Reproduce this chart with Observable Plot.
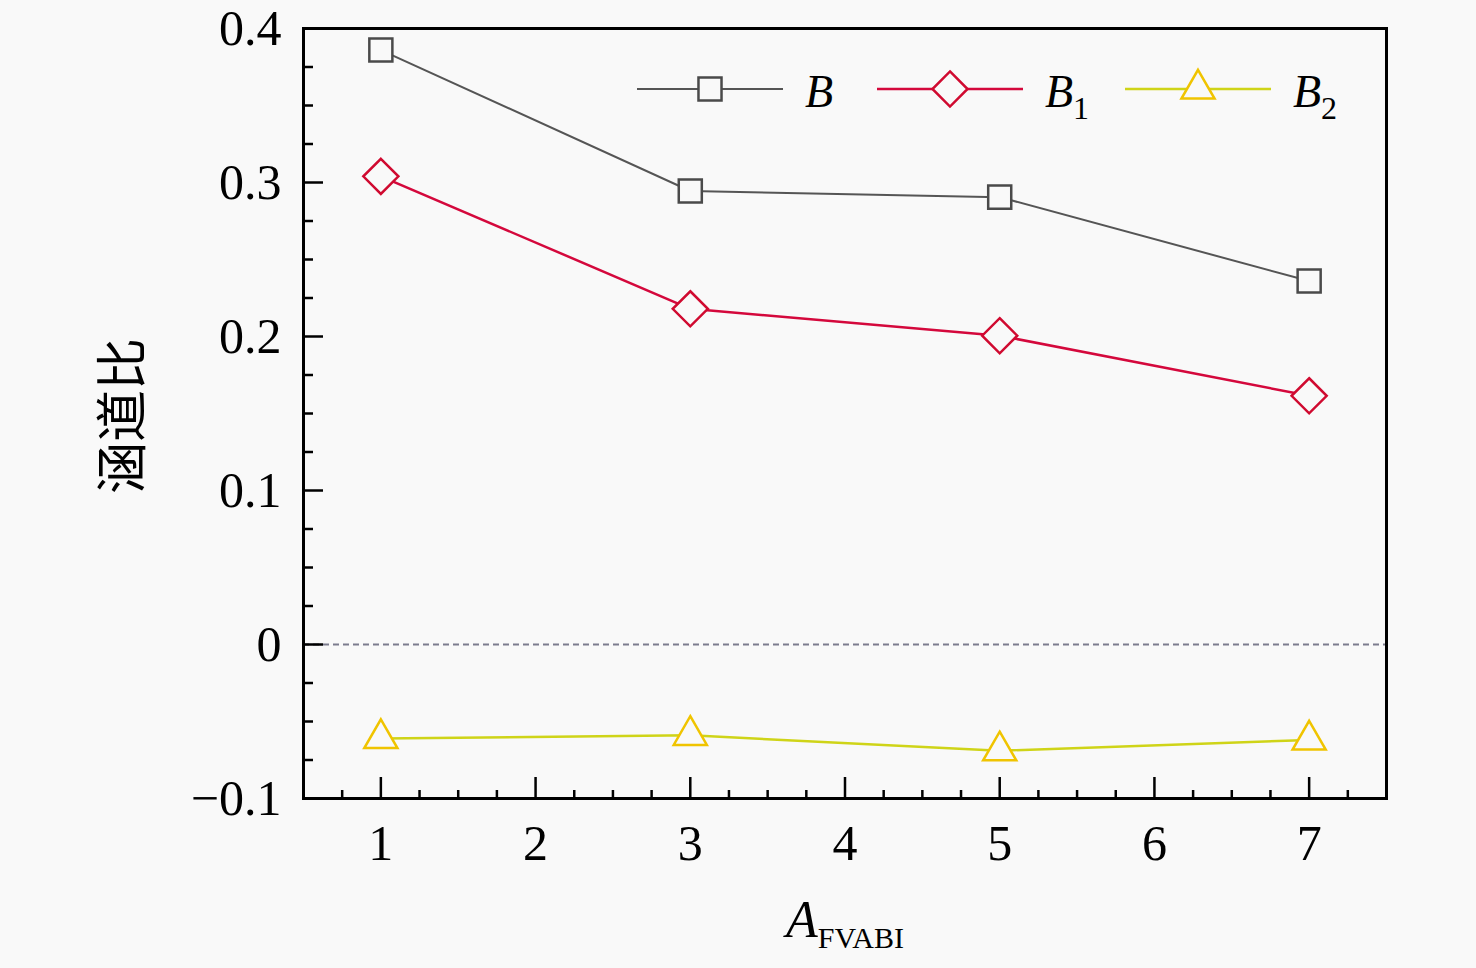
<!DOCTYPE html>
<html><head><meta charset="utf-8">
<script src="https://cdn.jsdelivr.net/npm/d3@7"></script>
<script src="https://cdn.jsdelivr.net/npm/@observablehq/plot@0.6"></script>
<style>html,body{margin:0;padding:0;background:#f9f9f9;} #chart{width:1476px;height:968px;}</style>
</head><body><div id="chart"></div>
<script>
// ---- data ----
const xValues  = [1, 3, 5, 7];
const seriesB  = [0.386, 0.2945, 0.2905, 0.236];
const seriesB1 = [0.304, 0.218, 0.2005, 0.1615];
const seriesB2 = [-0.061, -0.059, -0.069, -0.062];
const seriesKeys = ["B", "B1", "B2"];
const seriesSubs = ["", "1", "2"];
const xTicks = [1, 2, 3, 4, 5, 6, 7];
const xTickLabels = ["1", "2", "3", "4", "5", "6", "7"];
const yTicks = [-0.1, 0, 0.1, 0.2, 0.3, 0.4];
const yTickLabels = ["\u22120.1", "0", "0.1", "0.2", "0.3", "0.4"];
const yLabel = "涵道比";
const xLabelMain = "A";
const xLabelSub = "FVABI";

const xMinor = d3.range(3, 30).map(i => i / 4).filter(v => v % 1 !== 0);
const yMinor = d3.range(-4, 17).filter(i => i % 4 !== 0).map(i => i * 0.025);

const valuesByKey = {B: seriesB, B1: seriesB1, B2: seriesB2};
const rows = seriesKeys.flatMap(k => xValues.map((x, i) => ({series: k, x, y: valuesByKey[k][i]})));

const bg = "#f9f9f9";
const serif = "'Liberation Serif', 'Times New Roman', serif";
const styleOf = {
  B:  {line: "#555555", lw: 2,   symbol: "square",   mstroke: "#4a4a4a", r: 13},
  B1: {line: "#d4083c", lw: 2.5, symbol: "diamond2", mstroke: "#d00a30", r: 15.8},
  B2: {line: "#cfd418", lw: 2.5, symbol: "triangle", mstroke: "#f0c400", r: 12.3}
};

const W = 1476, H = 968, mL = 303, mR = 90, mT = 28, mB = 170;

const seriesMarks = seriesKeys.flatMap(k => {
  const s = styleOf[k];
  const d = rows.filter(r => r.series === k);
  return [
    Plot.line(d, {x: "x", y: "y", stroke: s.line, strokeWidth: s.lw}),
    Plot.dot(d, {x: "x", y: "y", symbol: s.symbol, r: s.r, stroke: s.mstroke, fill: bg, strokeWidth: 2.5})
  ];
});

const chart = Plot.plot({
  width: W, height: H,
  marginLeft: mL, marginRight: mR, marginTop: mT, marginBottom: mB,
  style: {background: bg, fontFamily: serif, color: "#000"},
  x: {domain: [0.5, 7.5]},
  y: {domain: [-0.1, 0.4]},
  marks: [
    Plot.ruleY([0], {stroke: "#7c7c8e", strokeWidth: 2, strokeDasharray: "6,4"}),
    ...seriesMarks,
    // inward ticks
    Plot.axisY({ticks: yTicks, tickSize: 20, dx: 20, fill: "none", strokeWidth: 2.5, label: null}),
    Plot.axisY({ticks: yMinor, tickSize: 10, dx: 10, fill: "none", strokeWidth: 2.5, label: null}),
    Plot.axisX({ticks: xTicks, tickSize: 21, dy: -21, fill: "none", strokeWidth: 2.5, label: null}),
    Plot.axisX({ticks: xMinor, tickSize: 8, dy: -8, fill: "none", strokeWidth: 2.5, label: null}),
    // tick labels
    Plot.axisY({ticks: yTicks, tickSize: 0, tickPadding: 22, fontSize: 50, fontFamily: serif, fill: "#000",
      tickFormat: d => yTickLabels[yTicks.indexOf(d)], label: null}),
    Plot.axisX({ticks: xTicks, tickSize: 0, tickPadding: 26, fontSize: 50, fontFamily: serif, fill: "#000",
      tickFormat: d => xTickLabels[xTicks.indexOf(d)], label: null}),
    Plot.frame({stroke: "#000", strokeWidth: 3})
  ]
});

document.getElementById("chart").appendChild(chart);
const svg = d3.select(chart);

// y label
svg.append("text")
  .attr("transform", "translate(118,416) rotate(-90)")
  .attr("text-anchor", "middle").attr("dominant-baseline", "central")
  .attr("font-family", "'Noto Sans CJK SC', sans-serif").attr("font-size", 52).attr("fill", "#000")
  .text(yLabel);

// x label
const xl = svg.append("text").attr("x", 845).attr("y", 937).attr("text-anchor", "middle")
  .attr("font-family", serif).attr("fill", "#000");
xl.append("tspan").attr("font-style", "italic").attr("font-size", 52).text(xLabelMain);
xl.append("tspan").attr("font-size", 30).attr("dy", 11).text(xLabelSub);

// legend
const legX = [637, 877, 1125], legTextX = [805, 1045, 1293], legY = 89, legLen = 146;
seriesKeys.forEach((k, i) => {
  const s = styleOf[k];
  const g = svg.append("g");
  g.append("line").attr("x1", legX[i]).attr("x2", legX[i] + legLen).attr("y1", legY).attr("y2", legY)
    .attr("stroke", s.line).attr("stroke-width", s.lw);
  const symMap = {square: d3.symbolSquare, diamond2: d3.symbolDiamond2, triangle: d3.symbolTriangle};
  g.append("path").attr("transform", `translate(${legX[i] + legLen / 2},${legY})`)
    .attr("d", d3.symbol(symMap[s.symbol], s.r * s.r * Math.PI)())
    .attr("fill", bg).attr("stroke", s.mstroke).attr("stroke-width", 2.5);
  const t = g.append("text").attr("x", legTextX[i]).attr("y", legY + 18).attr("text-anchor", "start")
    .attr("font-family", serif).attr("fill", "#000");
  t.append("tspan").attr("font-style", "italic").attr("font-size", 46).text("B");
  if (seriesSubs[i]) t.append("tspan").attr("font-size", 32).attr("dy", 12).text(seriesSubs[i]);
});
</script>
</body></html>
